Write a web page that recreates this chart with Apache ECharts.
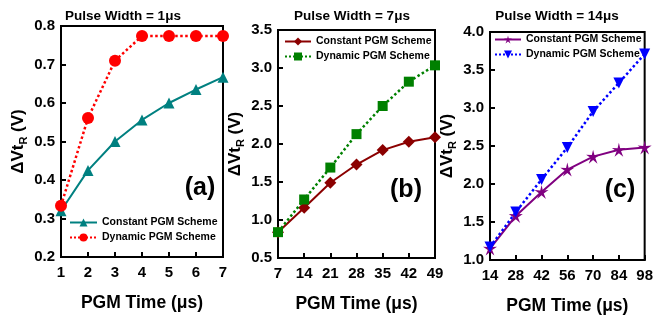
<!DOCTYPE html>
<html>
<head>
<meta charset="utf-8">
<script src="https://cdn.jsdelivr.net/npm/echarts@6/dist/echarts.min.js"></script>
<style>
  html, body { margin: 0; padding: 0; background: #fff; }
  #chart { width: 656px; height: 320px; }
</style>
</head>
<body>
<div id="chart"></div>
<script>
// PGM time axes (µs) for the three pulse widths
const timeA = [1, 2, 3, 4, 5, 6, 7];
const timeB = [7, 14, 21, 28, 35, 42, 49];
const timeC = [14, 28, 42, 56, 70, 84, 98];

// ΔVt_R (V) for the constant and dynamic PGM schemes
const constantA = [0.32, 0.425, 0.50, 0.556, 0.60, 0.635, 0.667];
const dynamicA  = [0.333, 0.561, 0.71, 0.774, 0.774, 0.774, 0.774];
const constantB = [0.84, 1.16, 1.49, 1.73, 1.92, 2.03, 2.09];
const dynamicB  = [0.84, 1.27, 1.69, 2.13, 2.50, 2.82, 3.035];
const constantC = [1.15, 1.58, 1.895, 2.19, 2.36, 2.45, 2.48];
const dynamicC  = [1.17, 1.63, 2.06, 2.48, 2.955, 3.33, 3.71];

const panelTitles = ['Pulse Width = 1\u03bcs', 'Pulse Width = 7\u03bcs', 'Pulse Width = 14\u03bcs'];
const panelTags = ['(a)', '(b)', '(c)'];
const legendNames = ['Constant PGM Scheme', 'Dynamic PGM Scheme'];
const xAxisTitle = 'PGM Time (\u03bcs)';

const FONT = '"Liberation Sans", Arial, sans-serif';
const STAR = 'path://M50,0 L59,37 L98,35 L65,58 L80,96 L50,71 L20,96 L35,58 L2,35 L41,37 Z';

const pair = (xs, ys) => xs.map((x, i) => [x, ys[i]]);

const grids = [
  { left: 61, top: 26, width: 162, height: 231 },
  { left: 278, top: 30, width: 157, height: 228 },
  { left: 490, top: 32, width: 158, height: 228 }
].map(g => Object.assign(g, { show: true, borderColor: '#000', borderWidth: 2, backgroundColor: 'transparent' }));

const xRanges = [[1, 7, 1], [7, 49, 7], [14, 98, 14]];
const yRanges = [[0.2, 0.8, 0.1, 1], [0.5, 3.5, 0.5, 1], [1.0, 4.0, 0.5, 1]];

const axisLabel = { color: '#000', fontFamily: FONT, fontWeight: 'bold', fontSize: 15 };

const xAxes = xRanges.map((r, i) => ({
  type: 'value', gridIndex: i, min: r[0], max: r[1], interval: r[2],
  axisLine: { show: true, lineStyle: { color: '#000', width: 2 } },
  axisTick: { show: true, inside: true, length: 5, lineStyle: { color: '#000', width: 2 } },
  splitLine: { show: false },
  axisLabel: Object.assign({ margin: 8 }, axisLabel),
  name: xAxisTitle, nameLocation: 'middle', nameGap: 37,
  nameTextStyle: { color: '#000', fontFamily: FONT, fontWeight: 'bold', fontSize: 17.5 }
}));

const yAxes = yRanges.map((r, i) => ({
  type: 'value', gridIndex: i, min: r[0], max: r[1], interval: r[2],
  axisLine: { show: true, lineStyle: { color: '#000', width: 2 } },
  axisTick: { show: true, inside: true, length: 5, lineStyle: { color: '#000', width: 2 } },
  splitLine: { show: false },
  axisLabel: Object.assign({ margin: 6, formatter: v => v.toFixed(r[3]) }, axisLabel),
  name: '{m|\u0394Vt}{s|R}{m| (V)}', nameLocation: 'middle', nameGap: 32,
  nameTextStyle: {
    rich: {
      m: { fontFamily: FONT, fontWeight: 'bold', fontSize: 17, color: '#000', lineHeight: 22 },
      s: { fontFamily: FONT, fontWeight: 'bold', fontSize: 11, color: '#000', lineHeight: 22, verticalAlign: 'bottom', padding: [6, 0, 0, 0] }
    }
  }
}));

function lineSeries(id, gi, xs, ys, color, dashed, symbol, size, rotate) {
  return {
    name: id, type: 'line', xAxisIndex: gi, yAxisIndex: gi,
    data: pair(xs, ys), symbol: symbol, symbolSize: size, symbolRotate: rotate || 0,
    itemStyle: { color: color },
    lineStyle: { color: color, width: dashed ? 2.5 : 2, type: dashed ? 'dotted' : 'solid' },
    animation: false, z: dashed ? 3 : 2
  };
}

const series = [
  lineSeries('a-const', 0, timeA, constantA, '#008080', false, 'triangle', 11),
  lineSeries('a-dyn', 0, timeA, dynamicA, '#ff0000', true, 'circle', 12),
  lineSeries('b-const', 1, timeB, constantB, '#8b0000', false, 'diamond', 12),
  lineSeries('b-dyn', 1, timeB, dynamicB, '#008000', true, 'rect', 10),
  lineSeries('c-const', 2, timeC, constantC, '#800080', false, STAR, 14),
  lineSeries('c-dyn', 2, timeC, dynamicC, '#0000ff', true, 'triangle', 11, 180)
];

const legendText = { fontFamily: FONT, fontWeight: 'bold', fontSize: 10.5, color: '#000' };
const legendFormat = n => legendNames[n.endsWith('const') ? 0 : 1];
const legends = [
  { data: ['a-const', 'a-dyn'], left: 69, top: 217, itemWidth: 27 },
  { data: ['b-const', 'b-dyn'], left: 284, top: 36, itemWidth: 26 },
  { data: ['c-const', 'c-dyn'], left: 494, top: 34, itemWidth: 26 }
].map(l => Object.assign(l, {
  orient: 'vertical', itemHeight: 10, itemGap: 4, padding: 0,
  textStyle: legendText, formatter: legendFormat, selectedMode: false
}));

const titleX = [123, 352, 557];
const titleY = [16, 16, 16];
const tagPos = [[200, 188], [406, 190], [620, 190]];
const graphics = [];
panelTitles.forEach((t, i) => graphics.push({
  type: 'text', x: titleX[i], y: titleY[i],
  style: { text: t, font: 'bold 13.5px ' + FONT, fill: '#000', textAlign: 'center', textVerticalAlign: 'middle' }
}));
panelTags.forEach((t, i) => graphics.push({
  type: 'text', x: tagPos[i][0], y: tagPos[i][1],
  style: { text: t, font: 'bold 25px ' + FONT, fill: '#000', textAlign: 'center', textVerticalAlign: 'middle' }
}));

const chart = echarts.init(document.getElementById('chart'), null, { renderer: 'canvas' });
chart.setOption({
  animation: false,
  backgroundColor: '#fff',
  grid: grids,
  xAxis: xAxes,
  yAxis: yAxes,
  legend: legends,
  series: series,
  graphic: graphics
});
</script>
</body>
</html>
